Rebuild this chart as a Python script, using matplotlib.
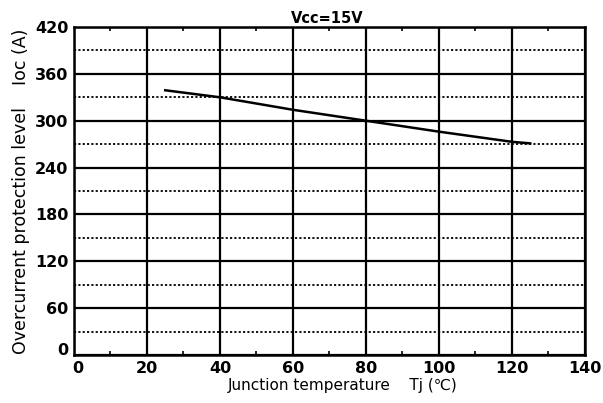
import matplotlib.pyplot as plt
import matplotlib.transforms as mtrans
from matplotlib.ticker import MultipleLocator

# curve
tj = [25, 40, 60, 80, 100, 120, 125]
ioc = [339, 330, 314, 300, 286, 273, 271]

x_ticks = [0, 20, 40, 60, 80, 100, 120, 140]
y_ticks = [0, 60, 120, 180, 240, 300, 360, 420]

fig = plt.figure(figsize=(6.03, 4.03), dpi=100)
ax = fig.add_axes([0.1227, 0.119, 0.8474, 0.814])

ax.set_xlim(0, 140)
ax.set_ylim(0, 420)
ax.set_xticks(x_ticks)
ax.set_yticks(y_ticks)
ax.xaxis.set_minor_locator(MultipleLocator(10))
ax.yaxis.set_minor_locator(MultipleLocator(30))

# major grid solid, minor horizontal grid dotted
ax.grid(which='major', color='black', linewidth=1.6, linestyle='-')
ax.grid(which='minor', axis='y', color='black', linewidth=1.3, linestyle=(0, (1.2, 1.2)))
ax.set_axisbelow(True)

ax.plot(tj, ioc, color='black', linewidth=1.8)

for s in ax.spines.values():
    s.set_linewidth(1.8)

ax.tick_params(which='major', length=0, labelsize=11.5, pad=4)
ax.tick_params(which='minor', direction='in', length=3, width=1.2, top=True, left=False)
for lab in ax.get_xticklabels() + ax.get_yticklabels():
    lab.set_fontweight('bold')

# the two zeros at the origin sit apart, like the original
xl0 = ax.get_xticklabels()[0]
xl0.set_transform(xl0.get_transform() + mtrans.ScaledTranslation(4 / 100, 0, fig.dpi_scale_trans))
yl0 = ax.get_yticklabels()[0]
yl0.set_transform(yl0.get_transform() + mtrans.ScaledTranslation(0, 6 / 100, fig.dpi_scale_trans))

ax.set_title('Vcc=15V', fontsize=10.5, fontweight='bold', pad=3, x=0.495)
ax.set_xlabel('Junction temperature    Tj (\u2103)', fontsize=11, labelpad=2, x=0.526)
ax.set_ylabel('Overcurrent protection level    Ioc (A)', fontsize=12.5, labelpad=4)

fig.savefig('out.png', dpi=100)
